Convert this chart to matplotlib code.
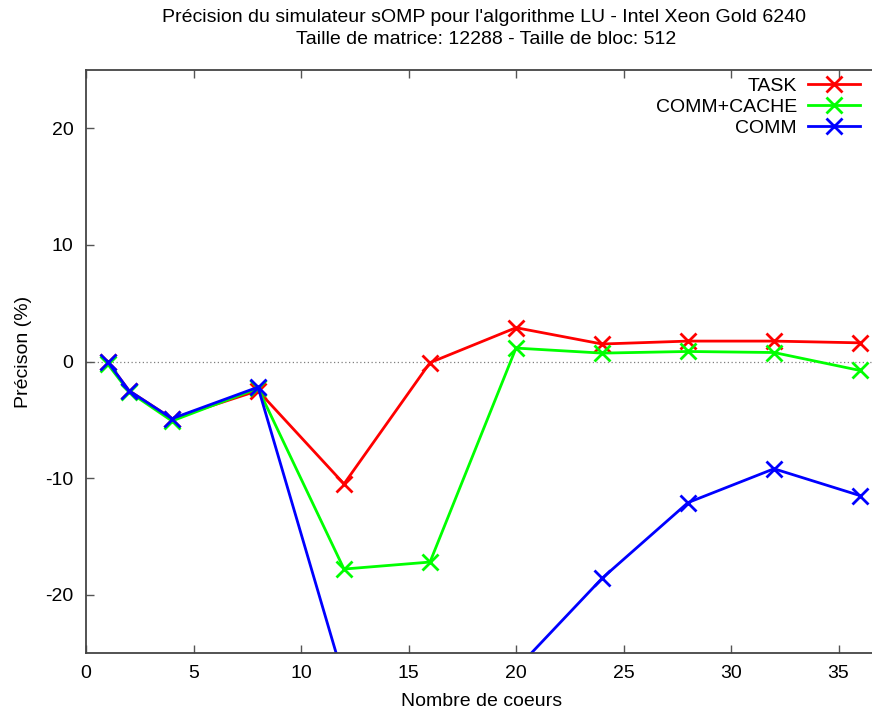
import matplotlib
matplotlib.use("Agg")
import matplotlib.pyplot as plt

plt.rcParams['font.family'] = ['Liberation Sans', 'DejaVu Sans']
plt.rcParams['axes.unicode_minus'] = False

cores = [1, 2, 4, 8, 12, 16, 20, 24, 28, 32, 36]
task = [0.0, -2.5, -4.9, -2.5, -10.5, -0.1, 2.9, 1.5, 1.75, 1.75, 1.6]
comm_cache = [-0.2, -2.6, -5.1, -2.3, -17.8, -17.2, 1.15, 0.72, 0.86, 0.77, -0.77]
comm = [0.0, -2.5, -4.9, -2.2, -27.3, -30.0, -26.4, -18.6, -12.1, -9.2, -11.5]

series = [("TASK", task, "#ff0000"),
          ("COMM+CACHE", comm_cache, "#00ff00"),
          ("COMM", comm, "#0000ff")]

title1 = "Précision du simulateur sOMP pour l'algorithme LU - Intel Xeon Gold 6240"
title2 = "Taille de matrice: 12288 - Taille de bloc: 512"

fig = plt.figure(figsize=(8.72, 7.15), dpi=100)
# gnuplot-style plot area, cropped on the right side
ax = fig.add_axes([86 / 872, 62 / 715, 860 / 872, 583 / 715])

for name, vals, col in series:
    ax.plot(cores, vals, color=col, lw=2.0, marker='x', markersize=11,
            mew=2.0, label=name)

ax.axhline(0, color='#808080', lw=0.9, ls=(0, (1, 2)), zorder=0)

ax.set_xlim(0, 40)
ax.set_ylim(-25, 25)
ax.set_xticks(range(0, 36, 5))
ax.set_yticks([-20, -10, 0, 10, 20])
ax.tick_params(direction='in', length=6, width=1, color='#555555',
               labelsize=14, pad=9, top=True, right=False)
for s in ax.spines.values():
    s.set_color('#444444')
    s.set_linewidth(1.3)

fig.text(484 / 872, 1 - 18 / 715, title1, ha='center', va='center', fontsize=14)
fig.text(486 / 872, 1 - 40 / 715, title2, ha='center', va='center', fontsize=14)
fig.text(482 / 872, 1 - 702 / 715, "Nombre de coeurs", ha='center',
         va='center', fontsize=14)
fig.text(24 / 872, 1 - 352 / 715, "Précison (%)", ha='center', va='center',
         rotation=90, fontsize=14)

leg = fig.legend(loc='upper right', bbox_to_anchor=(860 / 872, 1 - 77 / 715),
                 frameon=False, markerfirst=False, fontsize=14,
                 handlelength=2.7, handletextpad=0.55, labelspacing=0.18,
                 borderpad=0, borderaxespad=0)
leg._legend_box._children[-1]._children[0].align = "right"

fig.savefig("out.png", dpi=100)
